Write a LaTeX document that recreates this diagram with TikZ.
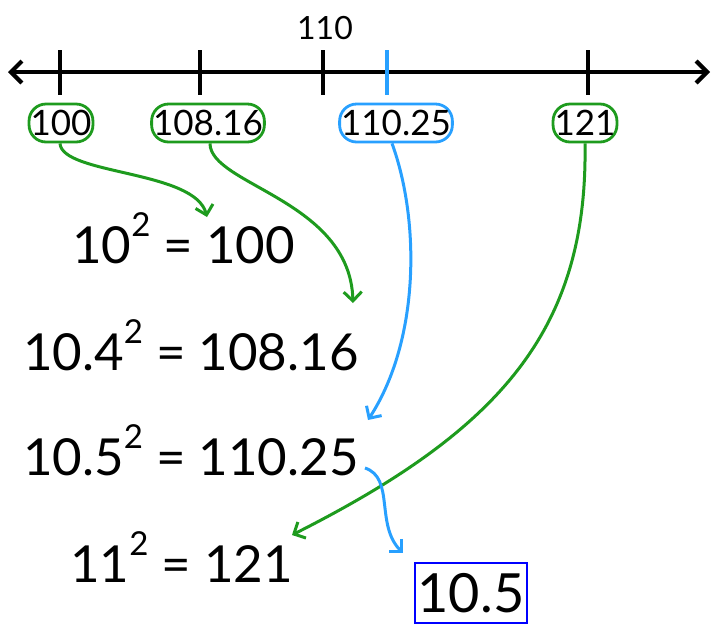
\documentclass[tikz,border=0pt]{standalone}
\usepackage{fontspec}
\setmainfont{Lato}
\usetikzlibrary{arrows.meta}
\definecolor{grn}{RGB}{30,155,30}
\definecolor{lblue}{RGB}{40,160,255}
\definecolor{bxblue}{RGB}{0,0,255}
\newcommand\sqtwo{\raisebox{27pt}{\fontsize{33}{33}\selectfont 2}}
\tikzset{
  pill/.style={draw, line width=2.8pt, rounded corners=17pt, minimum height=38pt,
    inner xsep=1.5pt, inner ysep=0pt, font=\fontsize{35}{35}\selectfont},
  eqn/.style={anchor=base west, inner sep=0pt, font=\fontsize{51}{51}\selectfont},
  tick/.style={line width=3.2pt},
  curv/.style={line width=3pt, -{Straight Barb[length=9pt,width=18pt]}},
}
\begin{document}
\begin{tikzpicture}[x=1pt,y=-1pt]
\useasboundingbox (0,0) rectangle (715,625);
% number line
\coordinate (L) at (8,72);
\coordinate (R) at (710,72);
\draw[line width=4.2pt, {Straight Barb[length=11pt,width=22pt]}-{Straight Barb[length=11pt,width=22pt]}] (L) -- (R);
\coordinate (t1a) at (60,50);  \coordinate (t1b) at (60,95);
\coordinate (t2a) at (200,50); \coordinate (t2b) at (200,95);
\coordinate (t3a) at (323,50); \coordinate (t3b) at (323,95);
\coordinate (t4a) at (387,50); \coordinate (t4b) at (387,95);
\coordinate (t5a) at (588,50); \coordinate (t5b) at (588,95);
\draw[tick] (t1a) -- (t1b);
\draw[tick] (t2a) -- (t2b);
\draw[tick] (t3a) -- (t3b);
\draw[tick, lblue] (t4a) -- (t4b);
\draw[tick] (t5a) -- (t5b);
\node[font=\fontsize{32}{32}\selectfont, inner sep=0pt] (l110) at (325,28) {110};
% pills
\node[pill, grn, text=black] (p100) at (61,123) {100};
\node[pill, grn, text=black] (p108) at (208,123) {108.16};
\node[pill, lblue, text=black] (p110) at (396,123) {110.25};
\node[pill, grn, text=black] (p121) at (585,123) {121};
% equations
\node[eqn] (e1) at (72,263) {10\sqtwo{} = 100};
\node[eqn] (e2) at (23,370) {10.4\sqtwo{} = 108.16};
\node[eqn] (e3) at (23,475) {10.5\sqtwo{} = 110.25};
\node[eqn] (e4) at (70,582) {11\sqtwo{} = 121};
% answer
\node[draw=bxblue, line width=2.2pt, minimum width=112pt, minimum height=60pt, inner sep=0pt,
  font=\fontsize{54}{54}\selectfont] (ans) at (471,593) {10.5};
% arrow tips
\coordinate (a1) at (207,217);
\coordinate (a2) at (353,303);
\coordinate (a3) at (368,420);
\coordinate (a4) at (292,535);
\coordinate (a5) at (403,553);
\coordinate (s5) at (365,468);
\draw[curv, grn] ([xshift=-1pt]p100.south) .. controls (62,175) and (195,170) .. (a1);
\draw[curv, grn] ([xshift=2pt]p108.south) .. controls (210,185) and (350,200) .. (a2);
\draw[curv, lblue] ([xshift=-4pt]p110.south) .. controls (420,220) and (420,340) .. (a3);
\draw[curv, grn] (p121.south) .. controls (588,330) and (500,430) .. (a4);
\draw[curv, lblue] (s5) .. controls (395,478) and (375,525) .. (a5);
\end{tikzpicture}
\end{document}
